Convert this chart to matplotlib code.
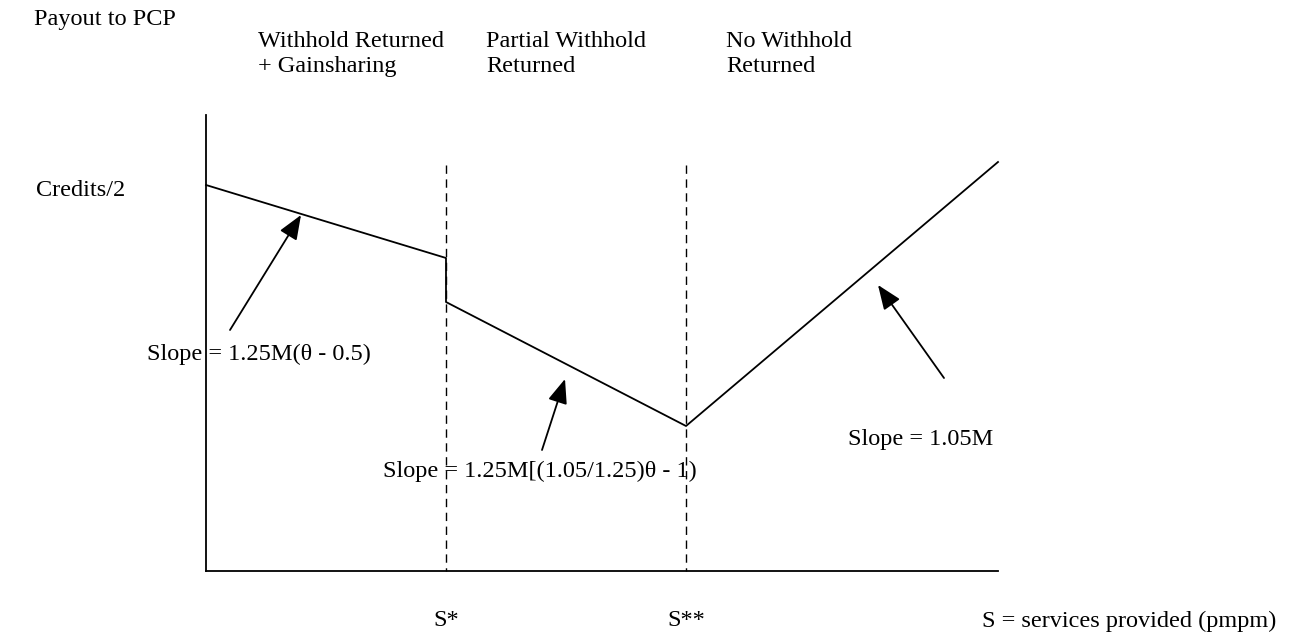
import matplotlib
matplotlib.use("Agg")
import matplotlib.pyplot as plt

# payout curve vertices (diagram coordinates, x to the right, y downward)
payout_x = [206, 446, 446, 686, 998]
payout_y = [185, 258, 302, 426, 162]

# thresholds S* and S**
thresholds = [446, 686]
threshold_labels = ["S*", "S**"]

region_labels = ["Withhold Returned\n+ Gainsharing", "Partial Withhold\nReturned", "No Withhold\nReturned"]
region_x = [258, 486, 726]

slope_labels = ["Slope = 1.25M(θ - 0.5)", "Slope = 1.25M[(1.05/1.25)θ - 1)", "Slope = 1.05M"]
slope_pos = [(147, 354), (383, 471), (848, 440)]
arrow_tail = [(230, 330), (542, 450), (944, 378)]
arrow_head = [(301, 215), (565, 379), (878, 285)]

plt.rcParams['font.family'] = ['Liberation Serif', 'DejaVu Serif']
fs = 17.5

fig = plt.figure(figsize=(13.02, 6.35), dpi=100)
ax = fig.add_axes([0, 0, 1, 1])
ax.set_xlim(0, 1302)
ax.set_ylim(635, 0)
ax.axis('off')

# axes of the diagram
ax.plot([206, 206], [115, 571], color='black', lw=1.3)
ax.plot([206, 998], [571, 571], color='black', lw=1.3)

for x in thresholds:
    ax.plot([x, x], [165, 571], color='black', lw=1.0, ls=(0, (6, 4)))

ax.plot(payout_x, payout_y, color='black', lw=1.3)

for (tx, ty), (hx, hy) in zip(arrow_tail, arrow_head):
    ax.annotate("", xy=(hx, hy), xytext=(tx, ty),
                arrowprops=dict(arrowstyle='-|>,head_length=1.5,head_width=0.6',
                                color='black', lw=1.3, shrinkA=0, shrinkB=0))

ax.text(34, 20, "Payout to PCP", fontsize=fs, va='center', ha='left')
ax.text(36, 190, "Credits/2", fontsize=fs, va='center', ha='left')
for lab, x in zip(region_labels, region_x):
    ax.text(x, 54, lab, fontsize=fs, va='center', ha='left', linespacing=1.2)
for lab, (x, y) in zip(slope_labels, slope_pos):
    ax.text(x, y, lab, fontsize=fs, va='center', ha='left')
for lab, x in zip(threshold_labels, thresholds):
    ax.text(x, 621, lab, fontsize=fs, va='center', ha='center')
ax.text(982, 621, "S = services provided (pmpm)", fontsize=fs, va='center', ha='left')

fig.savefig("out.png", dpi=100)
